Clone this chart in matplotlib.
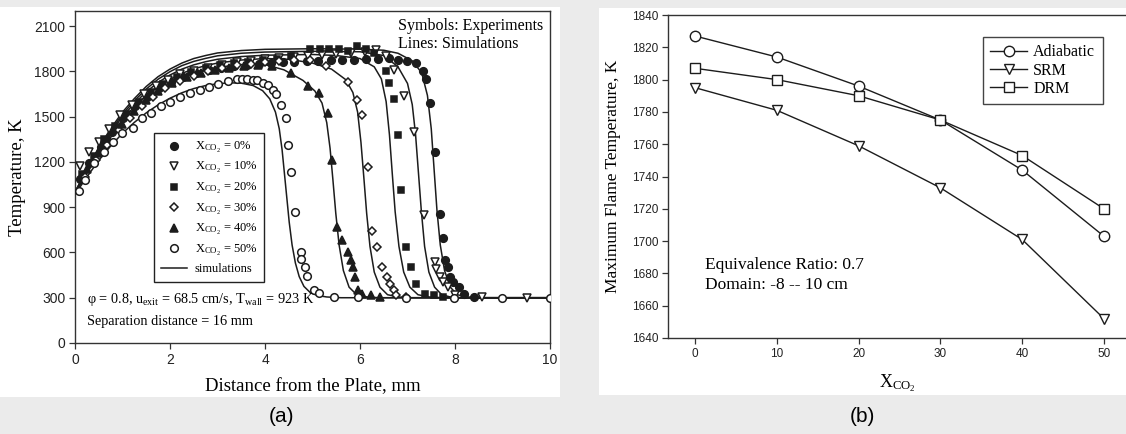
import matplotlib
matplotlib.use("Agg")
import matplotlib.pyplot as plt
from matplotlib.lines import Line2D
from matplotlib.patches import Rectangle

plt.rcParams.update({
    "font.family": ["Liberation Serif", "DejaVu Serif"],
    "mathtext.fontset": "custom",
    "mathtext.rm": "Liberation Serif",
    "mathtext.it": "Liberation Serif:italic",
    "mathtext.default": "rm",
})

# ---------------- panel (a): temperature profiles ----------------
co2_levels = ["0%", "10%", "20%", "30%", "40%", "50%"]

exp_x_0 = [0.10, 0.30, 0.55, 0.78, 1.02, 1.27, 1.52, 1.76, 2.02, 2.28, 2.55, 2.82, 3.08, 3.35,
           3.62, 3.88, 4.12, 4.38, 4.62, 4.88, 5.12, 5.38, 5.62, 5.88, 6.12, 6.38, 6.62, 6.80,
           6.98, 7.18, 7.32, 7.39, 7.48, 7.57, 7.69, 7.74, 7.79, 7.85, 7.90, 7.96, 8.08, 8.20, 8.40]
exp_T_0 = [1090, 1190, 1300, 1400, 1490, 1570, 1630, 1690, 1730, 1760, 1790, 1810, 1825, 1838,
           1845, 1852, 1856, 1860, 1862, 1866, 1870, 1874, 1876, 1878, 1880, 1884, 1888, 1878,
           1869, 1858, 1803, 1748, 1588, 1268, 858, 696, 548, 503, 437, 404, 370, 326, 305]

exp_x_10 = [0.11, 0.29, 0.50, 0.72, 0.95, 1.20, 1.45, 1.70, 1.95, 2.20, 2.50, 2.80, 3.10, 3.40,
            3.70, 4.00, 4.30, 4.60, 4.90, 5.20, 5.50, 5.80, 6.10, 6.34, 6.55, 6.72, 6.93, 7.14,
            7.35, 7.57, 7.60, 7.69, 7.74, 7.85, 8.00, 8.57, 9.51]
exp_T_10 = [1173, 1268, 1330, 1420, 1510, 1580, 1650, 1700, 1745, 1780, 1805, 1825, 1845, 1860,
            1870, 1880, 1890, 1895, 1905, 1910, 1915, 1920, 1930, 1940, 1900, 1811, 1634, 1401,
            847, 537, 492, 437, 404, 370, 315, 305, 300]

exp_x_20 = [0.15, 0.40, 0.62, 0.85, 1.10, 1.35, 1.60, 1.85, 2.15, 2.45, 2.75, 3.05, 3.35, 3.65,
            3.95, 4.25, 4.55, 4.95, 5.15, 5.35, 5.55, 5.75, 5.93, 6.12, 6.30, 6.55, 6.62, 6.72,
            6.80, 6.87, 6.97, 7.07, 7.17, 7.36, 7.55, 7.75]
exp_T_20 = [1120, 1240, 1350, 1440, 1520, 1600, 1660, 1715, 1760, 1795, 1820, 1840, 1855, 1865,
            1875, 1885, 1900, 1945, 1945, 1945, 1945, 1938, 1967, 1945, 1925, 1803, 1725, 1619,
            1380, 1013, 636, 503, 392, 326, 315, 305]

exp_x_30 = [0.20, 0.45, 0.68, 0.92, 1.15, 1.40, 1.65, 1.90, 2.20, 2.50, 2.80, 3.10, 3.40, 3.70,
            4.00, 4.30, 4.60, 4.95, 5.29, 5.74, 5.93, 6.04, 6.16, 6.25, 6.35, 6.46, 6.57, 6.63,
            6.71, 6.76, 6.96]
exp_T_30 = [1100, 1210, 1310, 1410, 1490, 1570, 1630, 1690, 1735, 1770, 1800, 1820, 1840, 1852,
            1860, 1866, 1872, 1876, 1834, 1727, 1612, 1512, 1168, 740, 636, 503, 437, 392,
            348, 315, 308]

exp_x_40 = [0.25, 0.48, 0.70, 0.98, 1.25, 1.50, 1.75, 2.05, 2.35, 2.65, 2.95, 3.25, 3.55, 3.85,
            4.15, 4.54, 4.91, 5.14, 5.33, 5.40, 5.52, 5.63, 5.74, 5.82, 5.86, 5.89, 5.95, 6.04,
            6.23, 6.42]
exp_T_40 = [1150, 1260, 1360, 1450, 1540, 1610, 1670, 1720, 1760, 1790, 1810, 1825, 1835, 1840,
            1838, 1789, 1701, 1656, 1523, 1213, 769, 681, 603, 548, 503, 437, 348, 326,
            315, 308]

exp_x_50 = [0.09, 0.20, 0.39, 0.60, 0.81, 0.99, 1.22, 1.41, 1.61, 1.82, 2.01, 2.22, 2.43, 2.63,
            2.83, 3.01, 3.22, 3.41, 3.52, 3.63, 3.75, 3.84, 3.96, 4.06, 4.16, 4.24, 4.33, 4.45,
            4.48, 4.54, 4.63, 4.75, 4.76, 4.84, 4.88, 5.04, 5.14, 5.46, 5.95, 6.96, 7.97, 8.98, 10.0]
exp_T_50 = [1007, 1080, 1191, 1264, 1335, 1390, 1428, 1490, 1523, 1568, 1596, 1627, 1656, 1678,
            1696, 1718, 1734, 1749, 1749, 1749, 1745, 1741, 1723, 1707, 1678, 1650, 1579, 1494,
            1313, 1135, 865, 603, 559, 503, 441, 348, 333, 308, 303, 300, 300, 300, 300]

sim_x_0 = [0, 0.25, 0.5, 0.75, 1.0, 1.25, 1.5, 1.75, 2.0, 2.25, 2.5, 2.75, 3.0, 3.5, 4.0, 5.0,
           6.0, 6.5, 6.8, 7.1, 7.3, 7.42, 7.5, 7.56, 7.62, 7.69, 7.78, 7.9, 8.05, 8.25, 8.5, 10]
sim_T_0 = [1000, 1150, 1295, 1420, 1530, 1620, 1700, 1765, 1815, 1855, 1885, 1905, 1922, 1938,
           1946, 1950, 1947, 1940, 1920, 1870, 1790, 1640, 1420, 1150, 880, 650, 480, 370, 320,
           305, 300, 300]

sim_x_10 = [0, 0.25, 0.5, 0.75, 1.0, 1.25, 1.5, 1.75, 2.0, 2.25, 2.5, 2.75, 3.0, 3.5, 4.0, 5.0,
            6.0, 6.5, 6.8, 7.0, 7.1, 7.17, 7.23, 7.29, 7.36, 7.45, 7.57, 7.72, 7.9, 8.1, 10]
sim_T_10 = [1000, 1145, 1285, 1408, 1515, 1605, 1683, 1748, 1798, 1838, 1866, 1886, 1903, 1920,
            1928, 1933, 1930, 1905, 1830, 1720, 1580, 1380, 1130, 880, 640, 470, 370, 320, 305,
            300, 300]

sim_x_20 = [0, 0.25, 0.5, 0.75, 1.0, 1.25, 1.5, 1.75, 2.0, 2.25, 2.5, 2.75, 3.0, 3.5, 4.0, 5.0,
            5.5, 6.0, 6.3, 6.45, 6.55, 6.62, 6.68, 6.74, 6.82, 6.92, 7.05, 7.22, 7.45, 7.7, 10]
sim_T_20 = [1000, 1140, 1275, 1395, 1500, 1588, 1664, 1727, 1776, 1815, 1843, 1864, 1880, 1898,
            1907, 1912, 1905, 1885, 1830, 1750, 1600, 1380, 1120, 870, 640, 470, 370, 320, 305,
            300, 300]

sim_x_30 = [0, 0.25, 0.5, 0.75, 1.0, 1.25, 1.5, 1.75, 2.0, 2.25, 2.5, 2.75, 3.0, 3.5, 4.0, 4.5,
            5.0, 5.4, 5.7, 5.85, 5.95, 6.02, 6.08, 6.14, 6.21, 6.3, 6.42, 6.58, 6.8, 7.0, 10]
sim_T_30 = [995, 1132, 1262, 1378, 1480, 1566, 1640, 1700, 1748, 1787, 1816, 1838, 1855, 1875,
            1885, 1880, 1855, 1815, 1745, 1660, 1530, 1330, 1100, 860, 640, 470, 370, 320, 305,
            300, 300]

sim_x_40 = [0, 0.25, 0.5, 0.75, 1.0, 1.25, 1.5, 1.75, 2.0, 2.25, 2.5, 2.75, 3.0, 3.5, 4.0, 4.4,
            4.8, 5.05, 5.2, 5.3, 5.37, 5.43, 5.49, 5.56, 5.65, 5.77, 5.93, 6.15, 6.4, 10]
sim_T_40 = [990, 1125, 1250, 1362, 1460, 1543, 1614, 1672, 1720, 1757, 1787, 1810, 1827, 1845,
            1845, 1810, 1740, 1670, 1590, 1460, 1290, 1080, 860, 650, 480, 370, 320, 305, 300, 300]

sim_x_50 = [0, 0.25, 0.5, 0.75, 1.0, 1.25, 1.5, 1.75, 2.0, 2.25, 2.5, 2.75, 3.0, 3.25, 3.5, 3.75,
            3.95, 4.1, 4.22, 4.3, 4.36, 4.41, 4.46, 4.51, 4.57, 4.64, 4.72, 4.82, 4.95, 5.1, 5.3,
            5.6, 10]
sim_T_50 = [985, 1100, 1210, 1305, 1390, 1462, 1525, 1578, 1622, 1658, 1686, 1706, 1718, 1724,
            1722, 1706, 1672, 1618, 1530, 1420, 1280, 1120, 960, 800, 650, 530, 440, 375, 335,
            315, 305, 300, 300]

# ---------------- panel (b): maximum flame temperature ----------------
x_co2 = [0, 10, 20, 30, 40, 50]
adiabatic = [1827, 1814, 1796, 1775, 1744, 1703]
srm = [1795, 1781, 1759, 1733, 1701, 1652]
drm = [1807, 1800, 1790, 1775, 1753, 1720]

W, H = 1126, 434
INK = "#1c1c1c"
SANS = ["Liberation Sans", "DejaVu Sans"]


def fx(px):
    return px / W


def fy(py):
    return 1 - py / H


fig = plt.figure(figsize=(W / 100, H / 100), dpi=100, facecolor="#ebebeb")

# white page areas behind each panel
fig.add_artist(Rectangle((0, fy(397)), fx(560), (397 - 7) / H, transform=fig.transFigure,
                         facecolor="white", edgecolor="none", zorder=0))
fig.add_artist(Rectangle((fx(599), fy(395)), fx(W - 599), (395 - 8) / H, transform=fig.transFigure,
                         facecolor="white", edgecolor="none", zorder=0))


def style_axes(ax, labelsize):
    for sp in ax.spines.values():
        sp.set_color("#333333")
        sp.set_linewidth(1.0)
    ax.tick_params(direction="out", length=4, width=0.9, color="#333333",
                   labelsize=labelsize, labelcolor="#222222", labelfontfamily=SANS, pad=3)
    ax.patch.set_alpha(0)


# ---- (a) ----
ax1 = fig.add_axes([fx(75), fy(343), (550 - 75) / W, (343 - 11) / H])
ax1.set_xlim(0, 10)
ax1.set_ylim(0, 2200)
ax1.set_xticks(range(0, 11, 2))
ax1.set_yticks(range(0, 2101, 300))
style_axes(ax1, 10)

sims = [(sim_x_0, sim_T_0), (sim_x_10, sim_T_10), (sim_x_20, sim_T_20),
        (sim_x_30, sim_T_30), (sim_x_40, sim_T_40), (sim_x_50, sim_T_50)]
for sx, sT in sims:
    ax1.plot(sx, sT, color=INK, lw=1.1, zorder=2)

exps = [(exp_x_0, exp_T_0, "o", INK, 5.5),
        (exp_x_10, exp_T_10, "v", "white", 5.5),
        (exp_x_20, exp_T_20, "s", INK, 5.0),
        (exp_x_30, exp_T_30, "D", "white", 4.5),
        (exp_x_40, exp_T_40, "^", INK, 5.5),
        (exp_x_50, exp_T_50, "o", "white", 5.5)]
handles = []
for (ex, eT, mk, fc, ms), lev in zip(exps, co2_levels):
    ax1.plot(ex, eT, ls="none", marker=mk, ms=ms, mfc=fc, mec=INK, mew=1.1, zorder=3)
    handles.append(Line2D([], [], ls="none", marker=mk, ms=ms, mfc=fc, mec=INK, mew=1.1))
labels = [r"X$_{CO_2}$ = " + lev for lev in co2_levels]
handles.append(Line2D([], [], color=INK, lw=1.1))
labels.append("simulations")

leg1 = ax1.legend(handles, labels, loc="upper left",
                  bbox_to_anchor=((154 - 75) / 475, (343 - 133) / 332),
                  borderaxespad=0, frameon=True, fancybox=False, framealpha=1,
                  edgecolor="#222222", fontsize=9.0, handlelength=2.1, handletextpad=0.6,
                  labelspacing=0.44, borderpad=0.55)
leg1.get_frame().set_linewidth(1.0)

ax1.set_xlabel("Distance from the Plate, mm", fontsize=13.5, labelpad=8)
ax1.set_ylabel("Temperature, K", fontsize=13.5, labelpad=6)

fig.text(fx(398), fy(26), "Symbols: Experiments", fontsize=11.5, ha="left", va="center")
fig.text(fx(398), fy(44), "Lines: Simulations", fontsize=11.5, ha="left", va="center")
fig.text(fx(87), fy(300),
         r"φ = 0.8, u$_{exit}$ = 68.5 cm/s, T$_{wall}$ = 923 K", fontsize=10.3, ha="left", va="center")
fig.text(fx(87), fy(322), "Separation distance = 16 mm", fontsize=10.3, ha="left", va="center")

# ---- (b) ----
ax2 = fig.add_axes([fx(668), fy(338), 485 / W, (338 - 15) / H])
ax2.set_xlim(-3.3, 56)
ax2.set_ylim(1640, 1840)
ax2.set_xticks(x_co2)
ax2.set_yticks(range(1640, 1841, 20))
style_axes(ax2, 8.5)

ax2.plot(x_co2, adiabatic, color=INK, lw=1.0, marker="o", ms=7.5, mfc="white", mec=INK,
         mew=1.0, label="Adiabatic", clip_on=False)
ax2.plot(x_co2, srm, color=INK, lw=1.0, marker="v", ms=7, mfc="white", mec=INK,
         mew=1.0, label="SRM", clip_on=False)
ax2.plot(x_co2, drm, color=INK, lw=1.0, marker="s", ms=6.5, mfc="white", mec=INK,
         mew=1.0, label="DRM", clip_on=False)

leg2 = ax2.legend(loc="upper left", bbox_to_anchor=((983 - 668) / 485, (338 - 37) / 323),
                  borderaxespad=0, frameon=True, fancybox=False, framealpha=1,
                  edgecolor="#444444", fontsize=11.5, handlelength=2.3, handletextpad=0.4,
                  labelspacing=0.15, borderpad=0.45)
leg2.get_frame().set_linewidth(1.0)

ax2.set_ylabel("Maximum Flame Temperature, K", fontsize=12.5, labelpad=8)
fig.text(fx(897), fy(383), r"X$_{CO_2}$", fontsize=13, ha="center", va="center")
fig.text(fx(705), fy(265), "Equivalence Ratio: 0.7", fontsize=12.5, ha="left", va="center")
fig.text(fx(705), fy(285), "Domain: -8 -- 10 cm", fontsize=12.5, ha="left", va="center")

# panel tags
fig.text(fx(282), fy(416), "(a)", fontsize=15, ha="center", va="center", family=SANS)
fig.text(fx(862), fy(416), "(b)", fontsize=15, ha="center", va="center", family=SANS)

fig.savefig("out.png", dpi=100, facecolor=fig.get_facecolor())
